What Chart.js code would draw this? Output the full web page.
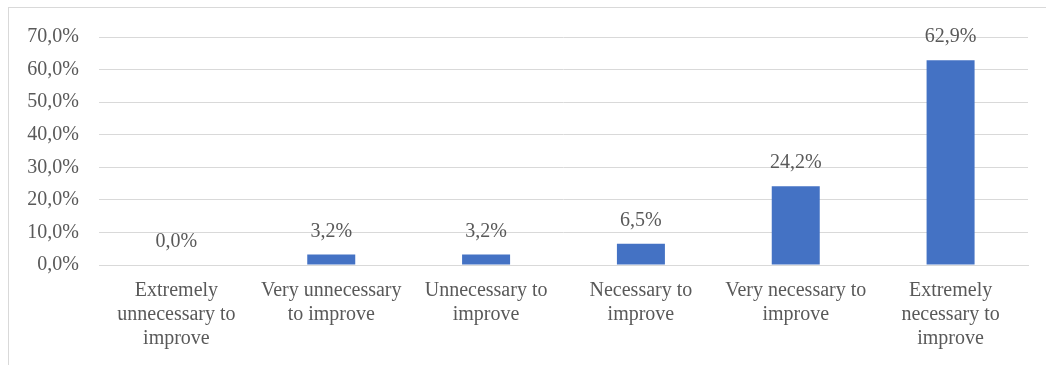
<!DOCTYPE html>
<html>
<head>
<meta charset="utf-8">
<script src="https://cdn.jsdelivr.net/npm/chart.js@4/dist/chart.umd.min.js"></script>
<style>
  html, body { margin: 0; padding: 0; background: #fff; overflow: hidden; }
  #wrap { position: relative; width: 1046px; height: 365px; }
  #frame {
    position: absolute; left: 8px; top: 7px; width: 1100px; height: 400px;
    border: 1px solid #d9d9d9; box-sizing: border-box;
  }
  canvas { position: absolute; left: 0; top: 0; }
</style>
</head>
<body>
<div id="wrap">
  <div id="frame"></div>
  <canvas id="chart" width="1046" height="365"></canvas>
</div>
<script>
// data
const categories = [
  ["Extremely", "unnecessary to", "improve"],
  ["Very unnecessary", "to improve"],
  ["Unnecessary to", "improve"],
  ["Necessary to", "improve"],
  ["Very necessary to", "improve"],
  ["Extremely", "necessary to", "improve"],
];
const shares = [0.0, 3.2, 3.2, 6.5, 24.2, 62.9];
const yTicks = [0, 10, 20, 30, 40, 50, 60, 70];

const textColor = "#595959";
const fontFamily = "'Liberation Serif', 'Times New Roman', serif";

function pct(v) {
  return v.toFixed(1).replace(".", ",") + "%";
}

// draws the value above each bar
const barLabels = {
  id: "barLabels",
  afterDatasetsDraw(chart) {
    const ctx = chart.ctx;
    const meta = chart.getDatasetMeta(0);
    ctx.save();
    ctx.font = "20px " + fontFamily;
    ctx.fillStyle = textColor;
    ctx.textAlign = "center";
    ctx.textBaseline = "middle";
    meta.data.forEach((bar, i) => {
      ctx.fillText(pct(shares[i]), bar.x, bar.y - 23);
    });
    ctx.restore();
  },
};

new Chart(document.getElementById("chart").getContext("2d"), {
  type: "bar",
  data: {
    labels: categories,
    datasets: [
      {
        data: shares,
        backgroundColor: "#4472c4",
        barPercentage: 0.62,
        categoryPercentage: 0.5,
      },
    ],
  },
  options: {
    responsive: false,
    animation: false,
    layout: { padding: { left: 8, top: 37, right: 18, bottom: 14 } },
    plugins: { legend: { display: false }, tooltip: { enabled: false } },
    scales: {
      x: {
        afterFit(scale) {
          scale.height = 86;
        },
        grid: { display: false, drawTicks: false },
        border: { color: "#d9d9d9", width: 1 },
        ticks: {
          color: textColor,
          font: { family: fontFamily, size: 20, lineHeight: 1.2 },
          padding: 14,
          maxRotation: 0,
          autoSkip: false,
        },
      },
      y: {
        min: 0,
        max: 70,
        afterBuildTicks(scale) {
          scale.ticks = yTicks.map((v) => ({ value: v }));
        },
        afterFit(scale) {
          scale.width = 91;
        },
        grid: { color: "#d9d9d9", lineWidth: 1, drawTicks: false },
        border: { display: false },
        ticks: {
          color: textColor,
          font: { family: fontFamily, size: 20 },
          padding: 20,
          callback: (v) => pct(v),
        },
      },
    },
  },
  plugins: [barLabels],
});
</script>
</body>
</html>
